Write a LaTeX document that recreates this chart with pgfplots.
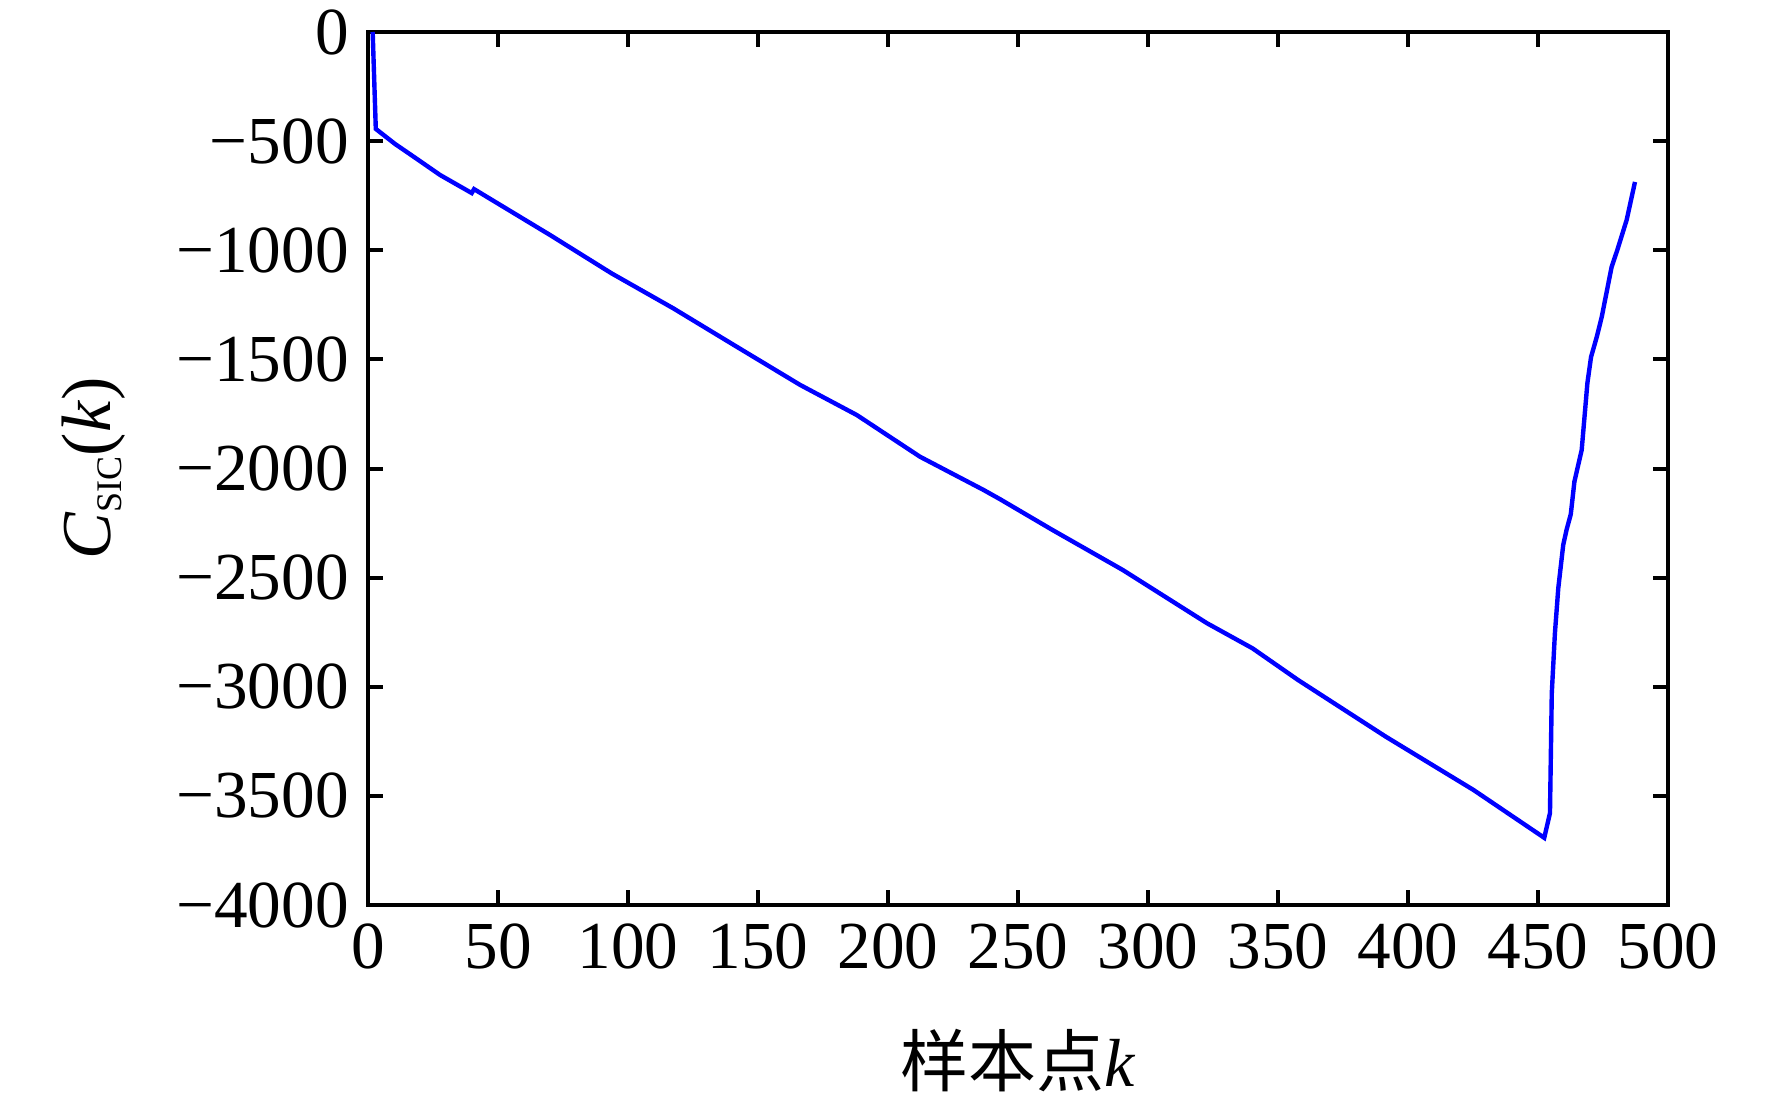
\documentclass[border=0pt]{standalone}
\usepackage{pgfplots}
\pgfplotsset{compat=1.18}
\usepackage{fontspec}
\setmainfont{Liberation Serif}
\newfontfamily\cjk{Noto Sans CJK SC}
\begin{document}
\begin{tikzpicture}
\useasboundingbox (-92pt,-49.25pt) rectangle (351pt,226.25pt);
\begin{axis}[
  at={(0,0)}, anchor=south west,
  scale only axis, width=325pt, height=218.25pt,
  xmin=0, xmax=500, ymin=-4000, ymax=0,
  xtick={0,50,...,500},
  ytick={-4000,-3500,...,0},
  yticklabels={−4000,−3500,−3000,−2500,−2000,−1500,−1000,−500,0},
  tick align=inside, tick pos=both,
  major tick length=3.75pt,
  every tick/.style={black, line width=1pt},
  axis line style={line width=1pt},
  /pgf/number format/assume math mode=true,
  ticklabel style={font=\fontsize{16.8}{16.8}\selectfont},
  xticklabel style={yshift=-1.2pt},
  yticklabel style={xshift=-1.3pt},
  xlabel={{\cjk 样本点}\textit{k}},
  xlabel style={at={(axis description cs:0.5,0)}, anchor=center, yshift=-39pt, font=\fontsize{17}{17}\selectfont},
  ylabel={\textit{C}\raisebox{-2.75pt}{\fontsize{9}{9}\selectfont SIC}(\textit{k})},
  ylabel style={at={(axis description cs:0,0.5)}, anchor=center, rotate=0, yshift=68.5pt, font=\fontsize{17.5}{17.5}\selectfont},
]
\addplot[blue, line width=1.1pt] coordinates {
(1.8,0) (3,-444) (10.4,-513) (18,-575) (27.7,-655) (39.9,-738) (40.8,-720)
(60.4,-861) (70,-930) (93.7,-1106) (117.4,-1266) (141.8,-1442) (166.2,-1617)
(188,-1755) (212.3,-1946) (236.7,-2098) (243,-2140) (263.3,-2282) (290.3,-2465)
(322.7,-2709) (340.2,-2824) (357.7,-2969) (391.5,-3229) (425.2,-3473) (452.4,-3692)
(454.6,-3579) (455.3,-3029) (456.5,-2755) (457.8,-2548) (459.7,-2350) (461,-2280)
(462.6,-2210) (464,-2060) (466.8,-1915) (469,-1608) (470.4,-1489) (472.6,-1397)
(474.5,-1306) (478.3,-1077) (480.5,-999) (484.1,-861) (487.3,-687)
};
\end{axis}
\end{tikzpicture}
\end{document}
